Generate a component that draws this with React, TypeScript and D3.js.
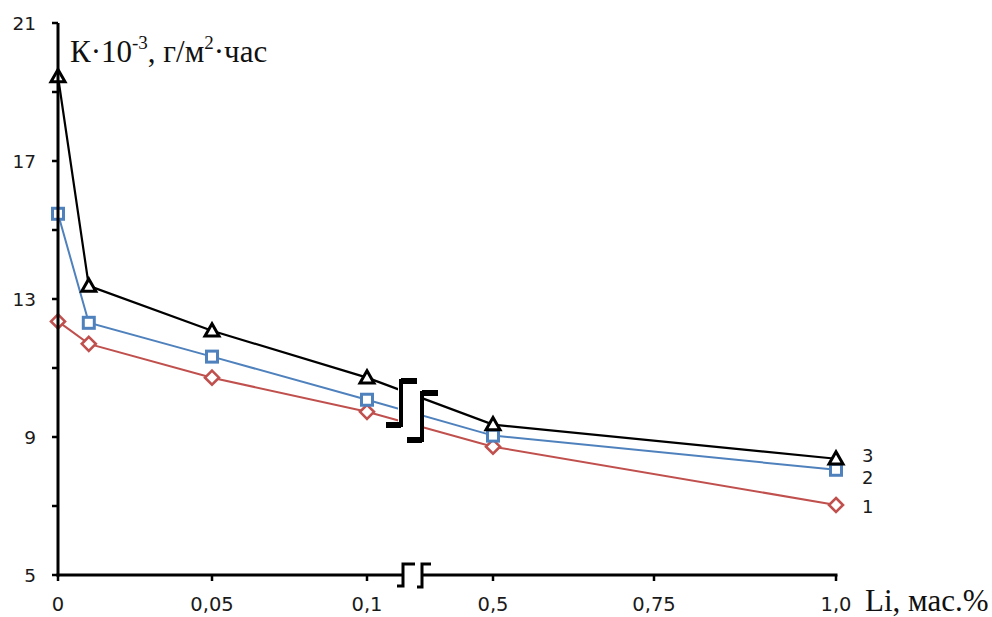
import React from 'react';
import * as d3 from 'd3';

// Li content, mass % (0.01 has a point but no tick)
const liValues = [0, 0.01, 0.05, 0.1, 0.5, 1.0];
const xTicks = [0, 0.05, 0.1, 0.5, 0.75, 1.0];
const xTickLabels = ['0', '0,05', '0,1', '0,5', '0,75', '1,0'];
const yTicks = [5, 7, 9, 11, 13, 15, 17, 19, 21];
const yTickLabels = ['5', '', '9', '', '13', '', '17', '', '21'];

// K·10^-3, g/m2·h
const series1 = [12.35, 11.7, 10.72, 9.73, 8.72, 7.03];
const series2 = [15.47, 12.31, 11.33, 10.08, 9.04, 8.05];
const series3 = [19.45, 13.38, 12.08, 10.72, 9.36, 8.37];
const seriesNames = ['1', '2', '3'];

const W = 992;
const H = 617;

const sans = '"DejaVu Sans", Verdana, sans-serif';
const serif = '"Liberation Serif", "Times New Roman", serif';

export default function App() {
  const x = d3.scaleLinear()
    .domain([0, 0.05, 0.1, 0.5, 0.75, 1.0])
    .range([58, 212, 367, 493, 654, 836]);
  const y = d3.scaleLinear().domain([5, 21]).range([575, 23]);

  const line = d3.line<number>()
    .x((d, i) => x(liValues[i]))
    .y(d => y(d));

  const styles = [
    { color: '#c0504d', width: 2, marker: 'diamond', labelDy: 8 },
    { color: '#4f81bd', width: 2, marker: 'square', labelDy: 14 },
    { color: '#000000', width: 2.2, marker: 'triangle', labelDy: 3 },
  ];
  const all = [series1, series2, series3];

  const marker = (kind: string, cx: number, cy: number, color: string, key: string) => {
    if (kind === 'square') {
      return <rect key={key} x={cx - 5.5} y={cy - 5.5} width={11} height={11}
        fill="#fff" stroke={color} strokeWidth={3} />;
    }
    if (kind === 'diamond') {
      const r = 7;
      return <path key={key} d={`M${cx},${cy - r}L${cx + r},${cy}L${cx},${cy + r}L${cx - r},${cy}Z`}
        fill="#fff" stroke={color} strokeWidth={2.6} />;
    }
    const r = 7;
    return <path key={key} d={`M${cx},${cy - r}L${cx + r},${cy + r * 0.75}L${cx - r},${cy + r * 0.75}Z`}
      fill="#fff" stroke={color} strokeWidth={3} />;
  };

  const x0 = x(0);
  const y0 = y(5);
  // break positions (between 0.1 and 0.5)
  const bx1 = 401;
  const bx2 = 422;

  return (
    <svg width={W} height={H} style={{ position: 'absolute', left: 0, top: 0, background: '#fff' }}>
      <rect x={0} y={0} width={W} height={H} fill="#fff" />

      {all.map((s, k) => (
        <path key={'l' + k} d={line(s) || ''} fill="none"
          stroke={styles[k].color} strokeWidth={styles[k].width} />
      ))}

      {/* gap in lines at the scale break */}
      <rect x={bx1 - 3} y={383} width={bx2 - bx1 + 5} height={55} fill="#fff" />
      <path d={`M${bx1 - 15},${425}H${bx1}V${381}H${bx1 + 16}`} fill="none" stroke="#000" strokeWidth={4} />
      <path d={`M${bx1 - 15},${425}H${bx1}`} fill="none" stroke="#000" strokeWidth={6} />
      <path d={`M${bx1},${381}H${bx1 + 16}`} fill="none" stroke="#000" strokeWidth={6} />
      <path d={`M${bx2 - 15},${440}H${bx2}V${393}H${bx2 + 16}`} fill="none" stroke="#000" strokeWidth={4} />
      <path d={`M${bx2 - 15},${440}H${bx2}`} fill="none" stroke="#000" strokeWidth={6} />
      <path d={`M${bx2},${393}H${bx2 + 16}`} fill="none" stroke="#000" strokeWidth={6} />

      {all.map((s, k) => s.map((v, i) =>
        marker(styles[k].marker, x(liValues[i]), y(v), styles[k].color, `m${k}-${i}`)
      ))}

      {all.map((s, k) => (
        <text key={'n' + k} x={862} y={y(s[s.length - 1]) + styles[k].labelDy}
          fontFamily={sans} fontSize={18} fill="#1a1a1a">{seriesNames[k]}</text>
      ))}

      {/* y axis */}
      <line x1={x0} x2={x0} y1={y(21)} y2={y0 + 1.5} stroke="#000" strokeWidth={3} />
      {yTicks.map((t, i) => (
        <g key={'yt' + i}>
          <line x1={x0 - 6} x2={x0} y1={y(t)} y2={y(t)} stroke="#000" strokeWidth={2.5} />
          {yTickLabels[i] && (
            <text x={36} y={y(t)} dy="0.36em" textAnchor="end" fontFamily={sans}
              fontSize={18.5} fill="#1a1a1a">{yTickLabels[i]}</text>
          )}
        </g>
      ))}

      {/* x axis with break */}
      <line x1={x0 - 1.5} x2={bx1 + 2} y1={y0} y2={y0} stroke="#000" strokeWidth={3} />
      <line x1={bx2} x2={x(1.0) + 1.5} y1={y0} y2={y0} stroke="#000" strokeWidth={3} />
      <path d={`M${bx1 - 4},${y0 + 11}H${bx1 + 2}V${y0 - 11}H${bx1 + 14}`} fill="none" stroke="#000" strokeWidth={3} />
      <path d={`M${bx2 - 5},${y0 + 12}H${bx2}V${y0 - 11}H${bx2 + 9}`} fill="none" stroke="#000" strokeWidth={3} />
      {xTicks.map((t, i) => (
        <g key={'xt' + i}>
          <line x1={x(t)} x2={x(t)} y1={y0} y2={y0 + 6} stroke="#000" strokeWidth={2.5} />
          <text x={x(t)} y={611} textAnchor="middle" fontFamily={sans} fontSize={19.5}
            fill="#1a1a1a">{xTickLabels[i]}</text>
        </g>
      ))}

      {/* axis titles */}
      <text x={70} y={62} fontFamily={serif} fontSize={31} fill="#111">
        К·10<tspan fontSize={19} dy={-13}>-3</tspan>
        <tspan dy={13}>, г/м</tspan>
        <tspan fontSize={19} dy={-13}>2</tspan>
        <tspan dy={13}>·час</tspan>
      </text>
      <text x={865} y={611} fontFamily={serif} fontSize={31} fill="#111">Li, мас.%</text>
    </svg>
  );
}
